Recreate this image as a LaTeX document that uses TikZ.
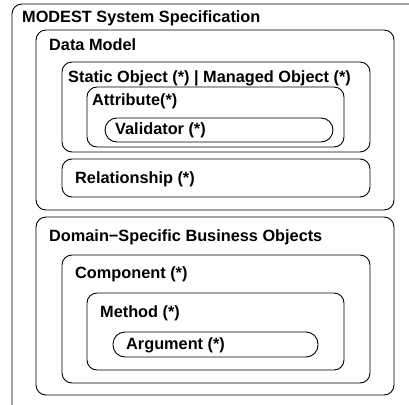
\documentclass[tikz,border=0pt]{standalone}
\usepackage{fontspec}
\setmainfont{Liberation Sans}

\tikzset{
  frame/.style={draw,line width=0.9pt,rounded corners=10pt},
  pill/.style={draw,line width=0.9pt,rounded corners=12pt},
  title/.style={anchor=west,inner sep=0pt,font=\fontsize{16.3}{19}\selectfont\bfseries}
}

\begin{document}
\begin{tikzpicture}[x=1pt,y=-1pt]
        \useasboundingbox (0,0) rectangle (409,404);
        \clip (0,0) rectangle (409,404);

        % outer frame
        \draw[frame] (12,4) rectangle (430,420);
        \node[title] (spec) at (22,18) {MODEST System Specification};

        % data model
        \draw[frame] (36,30) rectangle (394,210);
        \node[title] (data) at (49,45) {Data Model};

        \draw[frame] (62,62) rectangle (370,152);
        \node[title] (object) at (68,78) {Static Object (*) | Managed Object (*)};

        \draw[frame] (87,87) rectangle (344,147);
        \node[title] (attr) at (92,101) {Attribute(*)};

        \draw[pill] (105,118) rectangle (333,142);
        \node[title] (valid) at (115,130) {Validator (*)};

        \draw[frame] (62,159) rectangle (370,197);
        \node[title] (rel) at (75,179) {Relationship (*)};

        % business objects
        \draw[frame] (36,217) rectangle (394,395);
        \node[title] (domain) at (49,237) {Domain−Specific Business Objects};

        \draw[frame] (62,255) rectangle (370,383);
        \node[title] (comp) at (75,274) {Component (*)};

        \draw[frame] (87,293) rectangle (344,370);
        \node[title] (meth) at (100,313) {Method (*)};

        \draw[pill] (113,332) rectangle (318,357);
        \node[title] (arg) at (126,345) {Argument (*)};

    \end{tikzpicture}
\end{document}
